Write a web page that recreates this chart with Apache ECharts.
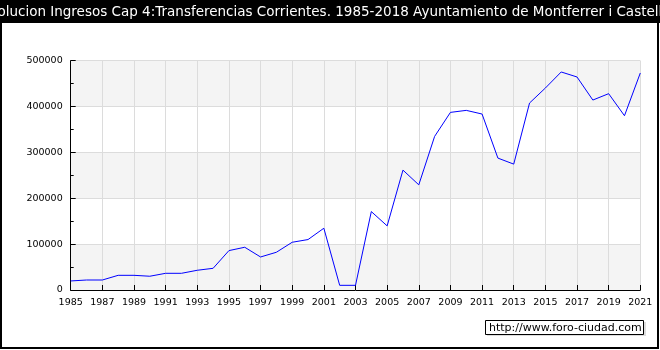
<!DOCTYPE html>
<html>
<head>
<meta charset="utf-8">
<script src="https://cdn.jsdelivr.net/npm/echarts@6/dist/echarts.min.js"></script>
<style>html,body{margin:0;padding:0;background:#fff}#c{width:660px;height:350px}</style>
</head>
<body>
<div id="c"></div>
<script>
var titleText = "Evolucion Ingresos Cap 4:Transferencias Corrientes. 1985-2018 Ayuntamiento de Montferrer i Castellbò";
var years = [1985,1986,1987,1988,1989,1990,1991,1992,1993,1994,1995,1996,1997,1998,1999,2000,2001,2002,2003,2004,2005,2006,2007,2008,2009,2010,2011,2012,2013,2014,2015,2016,2017,2018,2019,2020,2021];
var values = [19700,21800,21800,32000,32000,30000,36400,36400,43000,47300,85900,93200,72000,82300,104100,110000,134700,10200,10200,171000,139800,261400,229300,334900,387300,391700,383700,287600,274500,407700,440400,475400,464500,414200,428100,380000,473200];
var watermark = "http://www.foro-ciudad.com";

var data = years.map(function(y,i){return [y, values[i]];});
var chart = echarts.init(document.getElementById('c'), null, {renderer:'canvas'});
var font = "DejaVu Sans";
chart.setOption({
  animation:false,
  backgroundColor:'#fff',
  grid:{left:70.7, right:19.7, top:60.7, bottom:60, containLabel:false},
  xAxis:{
    type:'value', min:1985, max:2021, interval:2,
    axisLine:{lineStyle:{color:'#000', width:1}},
    axisTick:{inside:true, length:5, lineStyle:{color:'#000'}},
    axisLabel:{color:'#000', fontFamily:font, fontSize:9.5, margin:8, formatter:function(v){return String(v);}},
    splitLine:{show:true, lineStyle:{color:'#dcdcdc', width:1}}
  },
  yAxis:{
    type:'value', min:0, max:500000, interval:100000,
    axisLine:{show:true, lineStyle:{color:'#000', width:1}},
    axisTick:{show:true, inside:true, length:5, lineStyle:{color:'#000'}},
    minorTick:{show:true, splitNumber:2, length:3, lineStyle:{color:'#000'}},
    axisLabel:{color:'#000', fontFamily:font, fontSize:9.5, margin:8, formatter:function(v){return String(v);}},
    splitLine:{show:true, lineStyle:{color:'#dcdcdc', width:1}},
    splitArea:{show:true, areaStyle:{color:['#f4f4f4','#ffffff']}}
  },
  series:[{
    type:'line', data:data, showSymbol:false, symbol:'none',
    lineStyle:{color:'#0000ff', width:1}, itemStyle:{color:'#0000ff'}
  }],
  graphic:[
    {type:'rect', left:0, top:0, shape:{x:0,y:0,width:660,height:23}, style:{fill:'#000'}, z:100},
    {type:'text', x:330, y:12, style:{text:titleText, fill:'#fff', font:'13.5px "DejaVu Sans"', textAlign:'center', textVerticalAlign:'middle'}, z:101},
    {type:'rect', shape:{x:1,y:1,width:657,height:347}, style:{fill:null, stroke:'#000', lineWidth:2}, z:100},
    {type:'rect', shape:{x:487,y:322,width:159,height:14}, style:{fill:'#dddddd'}, z:100},
    {type:'rect', shape:{x:485.5,y:320.5,width:158,height:14}, style:{fill:'#fff', stroke:'#000', lineWidth:1}, z:101},
    {type:'text', x:489, y:328, style:{text:watermark, fill:'#000', font:'11px "DejaVu Sans"', textVerticalAlign:'middle'}, z:102}
  ]
});
</script>
</body>
</html>
